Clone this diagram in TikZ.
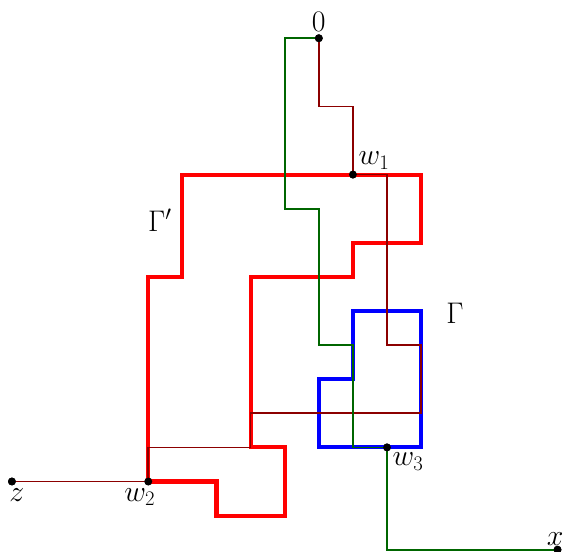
\documentclass[tikz,border=0pt]{standalone}
\usepackage{tikz}

\tikzset{
  pt/.style={circle,fill=black,inner sep=0pt,minimum size=2.3mm},
  lbl/.style={inner sep=2pt,font=\fontsize{24}{29}\selectfont},
  walkone/.style={red!55!black,line width=1.4pt},
  walktwo/.style={green!40!black,line width=1.4pt},
  contour/.style={line width=3.4pt,line join=miter}
}

\begin{document}
\begin{tikzpicture}
        \useasboundingbox (-0.35,-0.06) rectangle (16.19,16.12);

        % points
        \node[pt] (o) at (9,15) {};
        \node[pt] (wone) at (10,11) {};
        \node[pt] (wtwo) at (4,2) {};
        \node[pt] (wthree) at (11,3) {};
        \node[pt] (z) at (0,2) {};
        \node[pt] (x) at (16,0) {};

        % contours
        \draw[contour,red] (wtwo.center) -- (6,2) -- (6,1) -- (8,1) -- (8,3) -- (7,3) -- (7,8) -- (10,8) -- (10,9) -- (12,9) -- (12,11) -- (5,11) -- (5,8) -- (4,8) -- cycle;
        \draw[contour,blue] (10,7) -- (12,7) -- (12,3) -- (9,3) -- (9,5) -- (10,5) -- cycle;

        % walks
        \draw[walkone] (o.center) -- (9,13) -- (10,13) -- (wone.center) -- (11,11) -- (11,6) -- (12,6) -- (12,4) -- (7,4) -- (7,3) -- (4,3) -- (wtwo.center) -- (z.center);
        \draw[walktwo] (o.center) -- (8,15) -- (8,10) -- (9,10) -- (9,6) -- (10,6) -- (10,3) -- (wthree.center) -- (11,0) -- (x.center);

        \node[pt] at (o) {};
        \node[pt] at (wone) {};
        \node[pt] at (wtwo) {};
        \node[pt] at (wthree) {};
        \node[pt] at (z) {};
        \node[pt] at (x) {};

        % labels
        \node[lbl,above] (olbl) at (o.north) {$0$};
        \node[lbl,above right] (wonelbl) at (wone.north east) {$w_1$};
        \node[lbl,below left,xshift=8pt] (wtwolbl) at (wtwo.south) {$w_2$};
        \node[lbl,below right] (wthreelbl) at (wthree.south east) {$w_3$};
        \node[lbl,below,xshift=4pt] (zlbl) at (z.south) {$z$};
        \node[lbl,above,xshift=-2pt,inner sep=0pt] (xlbl) at (x.north) {$x$};
        \node[lbl] (gam) at (12.99,6.94) {$\Gamma$};
        \node[lbl] (gamp) at (4.34,9.65) {$\Gamma'$};
    \end{tikzpicture}
\end{document}
